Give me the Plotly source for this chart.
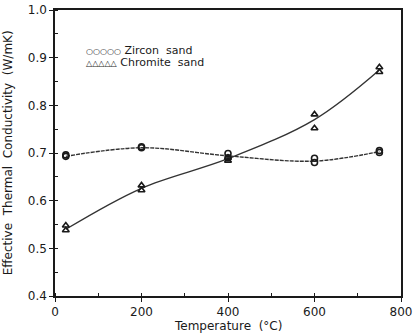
import plotly.graph_objects as go

# Data
zircon_x = [25, 25, 200, 200, 400, 400, 600, 600, 750, 750]
zircon_y = [0.693, 0.696, 0.711, 0.713, 0.699, 0.690, 0.689, 0.680, 0.701, 0.705]
chromite_x = [25, 25, 200, 200, 400, 400, 600, 600, 750, 750]
chromite_y = [0.538, 0.548, 0.622, 0.632, 0.684, 0.690, 0.752, 0.781, 0.870, 0.880]

zircon_fit_x = [25, 200, 400, 600, 750]
zircon_fit_y = [0.693, 0.711, 0.694, 0.683, 0.703]
chromite_fit_x = [25, 200, 400, 600, 750]
chromite_fit_y = [0.540, 0.626, 0.688, 0.770, 0.874]

x_ticks = [0, 200, 400, 600, 800]
y_ticks = [0.4, 0.5, 0.6, 0.7, 0.8, 0.9, 1.0]

font_family = "DejaVu Sans"
ink = "#1a1a1a"

fig = go.Figure()
fig.add_trace(go.Scatter(x=zircon_fit_x, y=zircon_fit_y, mode="lines",
                         line=dict(color="#333333", width=1.4, shape="spline", smoothing=1.0, dash="4px,1px"),
                         showlegend=False, hoverinfo="skip"))
fig.add_trace(go.Scatter(x=chromite_fit_x, y=chromite_fit_y, mode="lines",
                         line=dict(color="#333333", width=1.4, shape="spline", smoothing=1.0),
                         showlegend=False, hoverinfo="skip"))
fig.add_trace(go.Scatter(x=zircon_x, y=zircon_y, mode="markers", name="Zircon sand",
                         marker=dict(symbol="circle-open", size=6, color=ink, line=dict(width=1.6)),
                         showlegend=False))
fig.add_trace(go.Scatter(x=chromite_x, y=chromite_y, mode="markers", name="Chromite sand",
                         marker=dict(symbol="triangle-up-open", size=6, color=ink, line=dict(width=1.6)),
                         showlegend=False))

fig.add_annotation(x=0.085, y=0.86, xref="paper", yref="paper", xanchor="left", yanchor="middle",
                   text="<b><span style='font-size:8px'>○○○○○</span></b> Zircon  sand", showarrow=False,
                   font=dict(family=font_family, size=11, color=ink))
fig.add_annotation(x=0.085, y=0.817, xref="paper", yref="paper", xanchor="left", yanchor="middle",
                   text="<b><span style='font-size:8px'>△△△△△</span></b> Chromite  sand", showarrow=False,
                   font=dict(family=font_family, size=11, color=ink))

# axis titles as annotations for precise placement
fig.add_annotation(x=0.5, y=-0.075, xref="paper", yref="paper", xanchor="center", yanchor="top",
                   text="Temperature  (°C)", showarrow=False,
                   font=dict(family=font_family, size=12, color=ink))
fig.add_annotation(x=-0.135, y=0.5, xref="paper", yref="paper", xanchor="center", yanchor="middle",
                   text="Effective  Thermal  Conductivity  (W/mK)", showarrow=False, textangle=-90,
                   font=dict(family=font_family, size=12, color=ink))

fig.update_xaxes(range=[0, 800], tickvals=x_ticks, ticks="outside", ticklen=4,
                 tickcolor=ink, showgrid=False, zeroline=False, automargin=False,
                 showline=True, linecolor=ink, linewidth=1.5, mirror=True,
                 minor=dict(dtick=100, ticks="inside", ticklen=3, tickcolor=ink, showgrid=False),
                 tickfont=dict(family=font_family, size=12, color=ink))
fig.update_yaxes(range=[0.4, 1.0], tickvals=y_ticks, tickformat=".1f", ticks="outside", ticklen=4,
                 tickcolor=ink, showgrid=False, zeroline=False, automargin=False,
                 showline=True, linecolor=ink, linewidth=1.5, mirror=True,
                 minor=dict(dtick=0.05, ticks="inside", ticklen=3, tickcolor=ink, showgrid=False),
                 tickfont=dict(family=font_family, size=12, color=ink))

fig.update_layout(width=413, height=335, margin=dict(l=55, r=12, t=10, b=39),
                  plot_bgcolor="white", paper_bgcolor="white")

fig.write_html("out.html", config={"displayModeBar": False},
               post_script="document.body.style.margin='0';document.body.style.overflow='hidden';")
